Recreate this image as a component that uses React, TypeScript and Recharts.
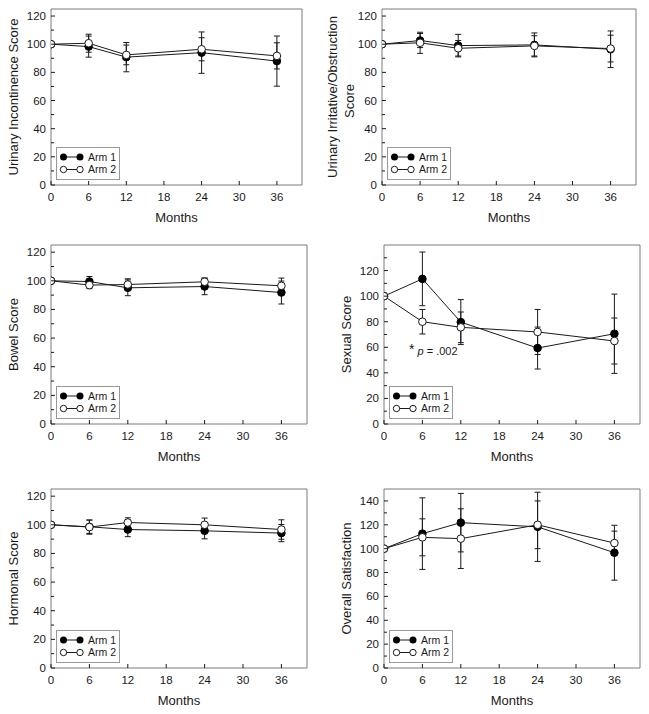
import React from 'react';
import { LineChart, Line, XAxis, YAxis, ErrorBar, Legend, ReferenceDot } from 'recharts';

// time points (months) and axis ticks
const months = [0, 6, 12, 24, 36];
const monthTicks = [0, 6, 12, 18, 24, 30, 36];
const yTicks120 = [0, 10, 20, 30, 40, 50, 60, 70, 80, 90, 100, 110, 120];
const yTicks130 = [0, 10, 20, 30, 40, 50, 60, 70, 80, 90, 100, 110, 120, 130];
const yTicks140 = [0, 10, 20, 30, 40, 50, 60, 70, 80, 90, 100, 110, 120, 130, 140];

// Urinary incontinence
const incontArm1 = [100, 98.3, 90.8, 94, 88];
const incontArm1Err = [0, 7.5, 10.4, 14.7, 17.8];
const incontArm2 = [100, 100.7, 92.4, 96.4, 91.7];
const incontArm2Err = [0, 6.4, 7, 8.2, 9.3];

// Urinary irritative / obstruction
const irritArm1 = [100, 102.6, 99, 99.5, 96.4];
const irritArm1Err = [0, 5, 8, 8.5, 13];
const irritArm2 = [100, 101, 97.1, 98.8, 96.9];
const irritArm2Err = [0, 7.5, 5.5, 7.2, 9.5];

// Bowel
const bowelArm1 = [100, 99.5, 95.1, 96, 91.8];
const bowelArm1Err = [0, 3.5, 5.5, 5.7, 8];
const bowelArm2 = [100, 97, 97.4, 99.3, 96.5];
const bowelArm2Err = [0, 2.5, 4, 2.7, 5.4];

// Sexual
const sexualArm1 = [100, 113.5, 79.7, 59.4, 70.6];
const sexualArm1Err = [0, 21, 17.6, 16.4, 31];
const sexualArm2 = [100, 80, 75.6, 72, 64.9];
const sexualArm2Err = [0, 9.6, 12, 17.6, 18];

// Hormonal
const hormArm1 = [100, 98.6, 96.7, 95.8, 94.2];
const hormArm1Err = [0, 4.6, 5, 5.6, 6];
const hormArm2 = [100, 98.4, 101.6, 100, 96.7];
const hormArm2Err = [0, 5, 3.3, 4.7, 6.8];

// Overall satisfaction
const satisArm1 = [100, 112.6, 121.8, 118.3, 96.6];
const satisArm1Err = [0, 30, 24.5, 29, 23];
const satisArm2 = [100, 109.5, 108.4, 120, 104.7];
const satisArm2Err = [0, 15.5, 25, 20, 10];

const FONT = 'Arial, "Liberation Sans", sans-serif';
const INK = '#1a1a1a';
const FRAME = '#7a7a7a';

const buildRows = (a1: number[], e1: number[], a2: number[], e2: number[]) =>
    months.map((m, i) => ({ month: m, arm1: a1[i], arm1Err: e1[i], arm2: a2[i], arm2Err: e2[i] }));

const LeftTick = ({ x, y, payload, labelMax }: any) => {
    const v = payload.value;
    const major = v % 20 === 0;
    return (
        <g>
            <line x1={x} x2={x + (major ? 4 : 3)} y1={y} y2={y} stroke={INK} />
            {major && v <= labelMax && (
                <text x={x - 5} y={y} dy={4} textAnchor="end" fontSize={11.5} fontFamily={FONT} fill={INK}>
                    {v}
                </text>
            )}
        </g>
    );
};

const RightTick = ({ x, y }: any) => <line x1={x} x2={x - 3} y1={y} y2={y} stroke={INK} />;

const BottomTick = ({ x, y, payload }: any) => (
    <g>
        <line x1={x} x2={x} y1={y} y2={y - 4} stroke={INK} />
        <text x={x} y={y + 16} textAnchor="middle" fontSize={11.5} fontFamily={FONT} fill={INK}>
            {payload.value}
        </text>
    </g>
);

const YTitle = ({ viewBox, lines }: any) => {
    const right = viewBox.x + viewBox.width;
    const cy = viewBox.y + viewBox.height / 2;
    const offsets = lines.length > 1 ? [50, 33] : [38];
    return (
        <g>
            {lines.map((t: string, i: number) => {
                const cx = right - offsets[i];
                const yy = lines.length > 1 && i === 1 ? cy + 4 : cy;
                return (
                    <text key={i} x={cx} y={yy} transform={`rotate(-90 ${cx} ${yy})`} textAnchor="middle"
                        dominantBaseline="central" fontSize={13} fontFamily={FONT} fill={INK}>
                        {t}
                    </text>
                );
            })}
        </g>
    );
};

const XTitle = ({ viewBox }: any) => (
    <text x={viewBox.x + viewBox.width / 2} y={viewBox.y + 37} textAnchor="middle" fontSize={13}
        fontFamily={FONT} fill={INK}>
        Months
    </text>
);

const LegendBox = () => (
    <svg width={64} height={33} style={{ display: 'block' }}>
        <rect x={0.5} y={0.5} width={63} height={32} fill="#fff" stroke="#999" />
        <line x1={7.5} x2={24} y1={10} y2={10} stroke={INK} />
        <circle cx={7.5} cy={10} r={3.5} fill="#000" />
        <circle cx={24} cy={10} r={3.5} fill="#000" />
        <text x={32} y={13.8} fontSize={10.5} fontFamily={FONT} fill={INK}>Arm 1</text>
        <line x1={7.5} x2={24} y1={22.5} y2={22.5} stroke={INK} />
        <circle cx={7.5} cy={22.5} r={3.2} fill="#fff" stroke={INK} />
        <circle cx={24} cy={22.5} r={3.2} fill="#fff" stroke={INK} />
        <text x={32} y={26.3} fontSize={10.5} fontFamily={FONT} fill={INK}>Arm 2</text>
    </svg>
);

const NoteText = ({ cx, cy }: any) => (
    <text x={cx} y={cy} fontSize={11} fontFamily={FONT} fill={INK}>
        <tspan fontSize={14} dy={-1}>*</tspan>
        <tspan dy={1}> </tspan>
        <tspan fontStyle="italic">p</tspan>
        <tspan> = .002</tspan>
    </text>
);

interface PanelProps {
    title: string[];
    rows: any[];
    yMax: number;
    yTicks: number[];
    labelMax: number;
    left: number;
    top: number;
    width: number;
    height: number;
    plot: { l: number; t: number; r: number; b: number };
    note?: boolean;
}

const Panel: React.FC<PanelProps> = ({ title, rows, yMax, yTicks, labelMax, left, top, width, height, plot, note }) => {
    const margin = { left: plot.l - 40, top: plot.t - 1, right: width - plot.r - 1, bottom: height - plot.b - 40 };
    return (
        <div style={{ position: 'absolute', left, top, width, height }}>
            <LineChart width={width} height={height} data={rows} margin={margin}>
                <XAxis xAxisId="b" type="number" dataKey="month" domain={[0, 40]} ticks={monthTicks} interval={0}
                    tickSize={0} tickMargin={0} tick={BottomTick} tickLine={false} height={40}
                    axisLine={{ stroke: FRAME }} label={<XTitle />} allowDataOverflow />
                <XAxis xAxisId="t" orientation="top" type="number" domain={[0, 40]} tick={false} tickLine={false}
                    height={1} axisLine={{ stroke: FRAME }} />
                <YAxis yAxisId="l" type="number" domain={[0, yMax]} ticks={yTicks} interval={0} tickSize={0}
                    tickMargin={0} tickLine={false} width={40} axisLine={{ stroke: FRAME }}
                    tick={(p: any) => <LeftTick {...p} labelMax={labelMax} />}
                    label={<YTitle lines={title} />} allowDataOverflow />
                <YAxis yAxisId="r" orientation="right" type="number" domain={[0, yMax]} ticks={yTicks} interval={0}
                    tickSize={0} tickMargin={0} tickLine={false} width={1} axisLine={{ stroke: FRAME }}
                    tick={RightTick} />
                <Legend layout="horizontal" verticalAlign="middle" align="center"
                    wrapperStyle={{ left: plot.l + 5, top: plot.b - 38, width: 64, height: 33 }}
                    content={() => <LegendBox />} />
                <Line xAxisId="b" yAxisId="l" type="linear" dataKey="arm1" name="Arm 1" stroke={INK} strokeWidth={1}
                    dot={{ r: 3.8, fill: '#000', stroke: '#000', strokeWidth: 1 }} activeDot={false}
                    isAnimationActive={false}>
                    <ErrorBar dataKey="arm1Err" direction="y" width={3} stroke={INK} strokeWidth={1} />
                </Line>
                <Line xAxisId="b" yAxisId="l" type="linear" dataKey="arm2" name="Arm 2" stroke={INK} strokeWidth={1}
                    dot={{ r: 3.8, fill: '#fff', stroke: INK, strokeWidth: 1 }} activeDot={false}
                    isAnimationActive={false}>
                    <ErrorBar dataKey="arm2Err" direction="y" width={3} stroke={INK} strokeWidth={1} />
                </Line>
                {note && (
                    <ReferenceDot xAxisId="b" yAxisId="l" x={3.9} y={54} r={0}
                        shape={(p: any) => <NoteText cx={p.cx} cy={p.cy} />} />
                )}
            </LineChart>
        </div>
    );
};

const App: React.FC = () => (
    <div style={{ position: 'absolute', left: 0, top: 0, width: 649, height: 714, background: '#fff' }}>
        <Panel title={['Urinary Incontinence Score']}
            rows={buildRows(incontArm1, incontArm1Err, incontArm2, incontArm2Err)}
            yMax={125} yTicks={yTicks120} labelMax={120}
            left={0} top={0} width={325} height={230} plot={{ l: 51, t: 9, r: 302, b: 185 }} />
        <Panel title={['Urinary Irritative/Obstruction', 'Score']}
            rows={buildRows(irritArm1, irritArm1Err, irritArm2, irritArm2Err)}
            yMax={125} yTicks={yTicks120} labelMax={120}
            left={325} top={0} width={324} height={230} plot={{ l: 57, t: 9, r: 311, b: 185 }} />
        <Panel title={['Bowel Score']}
            rows={buildRows(bowelArm1, bowelArm1Err, bowelArm2, bowelArm2Err)}
            yMax={125} yTicks={yTicks120} labelMax={120}
            left={0} top={230} width={325} height={240} plot={{ l: 51, t: 15, r: 307, b: 194 }} />
        <Panel title={['Sexual Score']}
            rows={buildRows(sexualArm1, sexualArm1Err, sexualArm2, sexualArm2Err)}
            yMax={140} yTicks={yTicks130} labelMax={120} note
            left={325} top={230} width={324} height={240} plot={{ l: 59, t: 15, r: 315, b: 194 }} />
        <Panel title={['Hormonal Score']}
            rows={buildRows(hormArm1, hormArm1Err, hormArm2, hormArm2Err)}
            yMax={125} yTicks={yTicks120} labelMax={120}
            left={0} top={470} width={325} height={244} plot={{ l: 51, t: 19, r: 307, b: 198 }} />
        <Panel title={['Overall Satisfaction']}
            rows={buildRows(satisArm1, satisArm1Err, satisArm2, satisArm2Err)}
            yMax={150} yTicks={yTicks140} labelMax={140}
            left={325} top={470} width={324} height={244} plot={{ l: 59, t: 19, r: 315, b: 198 }} />
    </div>
);

export default App;
